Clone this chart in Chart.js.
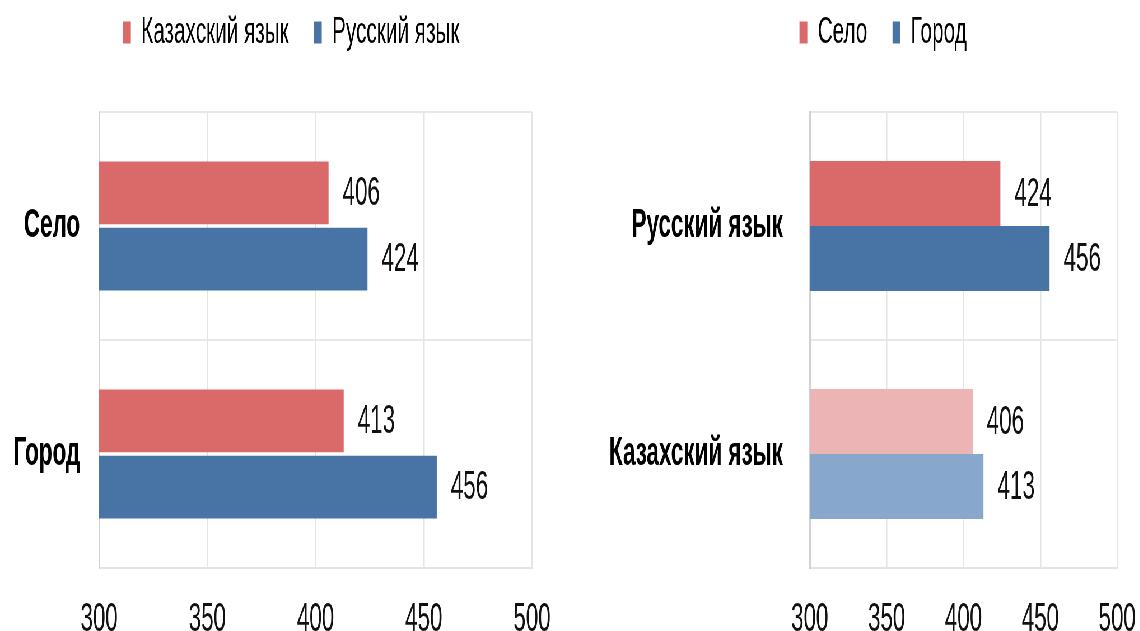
<!DOCTYPE html>
<html>
<head>
<meta charset="utf-8">
<script src="https://cdn.jsdelivr.net/npm/chart.js@4"></script>
<style>
  html, body { margin: 0; padding: 0; background: #fff; overflow: hidden; }
  /* the original picture is squeezed sideways, so draw wide and scale down */
  #wrap { position: absolute; left: 0; top: 0; width: 2036px; height: 631px; transform: scaleX(0.56); transform-origin: 0 0; }
  .box { position: absolute; top: 0; height: 631px; }
</style>
</head>
<body>
<div id="wrap">
  <div class="box" style="left:0;width:1040px"><canvas id="areaChart"></canvas></div>
  <div class="box" style="left:1040px;width:1074px"><canvas id="langChart"></canvas></div>
</div>
<script>
// left chart: by settlement type
var areaLabels = ['Село', 'Город'];
var kazakhByArea = [406, 413];
var russianByArea = [424, 456];

// right chart: by language of study
var langLabels = ['Русский язык', 'Казахский язык'];
var ruralByLang = [424, 406];
var urbanByLang = [456, 413];

var xTicks = [300, 350, 400, 450, 500];

var red = 'rgb(218,106,105)';
var blue = 'rgb(72,116,165)';
var paleRed = 'rgb(237,180,181)';
var paleBlue = 'rgb(135,167,204)';
var fontFamily = '"Liberation Sans", Arial, sans-serif';

// numbers to the right of each bar
var valueLabels = {
  id: 'valueLabels',
  afterDatasetsDraw: function(chart) {
    var ctx = chart.ctx;
    ctx.save();
    ctx.font = '40px ' + fontFamily;
    ctx.fillStyle = '#111';
    ctx.textAlign = 'left';
    ctx.textBaseline = 'middle';
    chart.data.datasets.forEach(function(ds, i) {
      chart.getDatasetMeta(i).data.forEach(function(bar, j) {
        ctx.fillText(ds.data[j], bar.x + 25, bar.y + 1);
      });
    });
    ctx.restore();
  }
};

// push plot area down below the legend
var legendSpace = {
  id: 'legendSpace',
  beforeInit: function(chart) {
    var fit = chart.legend.fit;
    chart.legend.fit = function() {
      fit.bind(chart.legend)();
      this.height = 143;
    };
  }
};

function makeOptions(yWidth, yPad, rightRoom) {
  return {
    indexAxis: 'y',
    responsive: true,
    maintainAspectRatio: false,
    animation: false,
    layout: { padding: { left: 0, right: 0, top: -31, bottom: 0 } },
    plugins: {
      tooltip: { enabled: false },
      legend: {
        position: 'top',
        labels: {
          boxWidth: 14,
          boxHeight: 22,
          padding: 45,
          color: '#000',
          font: { size: 37, family: fontFamily }
        }
      }
    },
    scales: {
      x: {
        min: xTicks[0],
        max: xTicks[xTicks.length - 1],
        ticks: { stepSize: xTicks[1] - xTicks[0], padding: 28, color: '#111', font: { size: 40, family: fontFamily } },
        grid: { color: '#e4e4e4', lineWidth: 2.5, drawTicks: false },
        border: { color: '#e4e4e4', width: 2 },
        afterFit: function(scale) {
          scale.height = 63;
          scale.paddingRight = rightRoom;
        }
      },
      y: {
        ticks: { padding: yPad, color: '#000', font: { size: 40, weight: 'bold', family: fontFamily } },
        grid: { offset: true, color: '#e8e8e8', lineWidth: 2, drawTicks: false },
        border: { color: '#d2d2d2', width: 3 },
        afterFit: function(scale) {
          scale.width = yWidth;
          scale.paddingTop = 0;
          scale.paddingBottom = 0;
        }
      }
    }
  };
}

var areaChart = new Chart(document.getElementById('areaChart'), {
  type: 'bar',
  data: {
    labels: areaLabels,
    datasets: [{
      label: 'Казахский язык',
      data: kazakhByArea,
      backgroundColor: red,
      borderWidth: 0,
      categoryPercentage: 0.58,
      barPercentage: 0.95
    }, {
      label: 'Русский язык',
      data: russianByArea,
      backgroundColor: blue,
      borderWidth: 0,
      categoryPercentage: 0.58,
      barPercentage: 0.95
    }]
  },
  options: makeOptions(177, 34, 90),
  plugins: [valueLabels, legendSpace]
});

// second category is drawn in paler tones
var langChart = new Chart(document.getElementById('langChart'), {
  type: 'bar',
  data: {
    labels: langLabels,
    datasets: [{
      label: 'Село',
      data: ruralByLang,
      backgroundColor: function(c) { return c.dataIndex === 1 ? paleRed : red; },
      borderWidth: 0,
      categoryPercentage: 0.57,
      barPercentage: 1
    }, {
      label: 'Город',
      data: urbanByLang,
      backgroundColor: function(c) { return c.dataIndex === 1 ? paleBlue : blue; },
      borderWidth: 0,
      categoryPercentage: 0.57,
      barPercentage: 1
    }]
  },
  options: makeOptions(406, 48, 119),
  plugins: [valueLabels, legendSpace]
});
</script>
</body>
</html>
